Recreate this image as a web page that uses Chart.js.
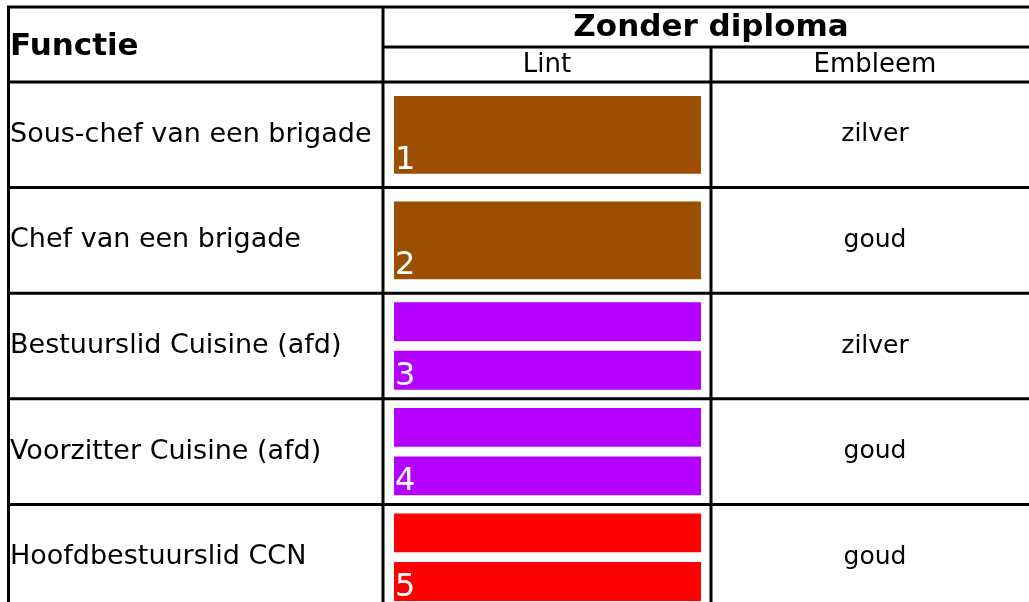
<!DOCTYPE html>
<html>
<head>
<meta charset="utf-8">
<script src="https://cdn.jsdelivr.net/npm/chart.js@4"></script>
<style>
  html, body { margin: 0; padding: 0; background: #fff; overflow: hidden; }
  #wrap { width: 1029px; height: 640px; }
</style>
</head>
<body>
<div id="wrap"><canvas id="myChart" width="1029" height="640"></canvas></div>
<script>
// Table data
const functies = ['Sous-chef van een brigade', 'Chef van een brigade', 'Bestuurslid Cuisine (afd)', 'Voorzitter Cuisine (afd)', 'Hoofdbestuurslid CCN'];
const lintKleur = ['#9C4F00', '#9C4F00', '#B400FF', '#B400FF', '#FF0000'];
const lintStrepen = [1, 1, 2, 2, 2];
const lintNummer = ['1', '2', '3', '4', '5'];
const embleem = ['zilver', 'goud', 'zilver', 'goud', 'goud'];

const titel = 'Zonder diploma';
const kolomFunctie = 'Functie';
const kolomLint = 'Lint';
const kolomEmbleem = 'Embleem';

const FONT = '"DejaVu Sans", Verdana, sans-serif';

// Each stripe of the ribbon is one bar, spanning the full lint column
const strook1 = functies.map(() => 1);
const strook2 = lintStrepen.map(n => (n > 1 ? 1 : null));

// Grid lines, headers, emblem column and ribbon numbers
const tablePlugin = {
  id: 'tablePlugin',
  afterDraw(chart) {
    const ctx = chart.ctx;
    const area = chart.chartArea;
    const yScale = chart.scales.y;
    const colLint = area.left - 11;
    const colEmbleem = area.right + 10;
    const colEnd = colEmbleem + (colEmbleem - colLint);
    const top = 7, midHead = 47, headBottom = area.top;
    const step = yScale.getPixelForValue(1) - yScale.getPixelForValue(0);

    ctx.save();
    ctx.strokeStyle = '#000';
    ctx.lineWidth = 3;
    const line = (x1, y1, x2, y2) => {
      ctx.beginPath();
      ctx.moveTo(x1, y1);
      ctx.lineTo(x2, y2);
      ctx.stroke();
    };
    // horizontal
    line(7, top, chart.width, top);
    line(colLint, midHead, chart.width, midHead);
    line(7, headBottom, chart.width, headBottom);
    functies.forEach((f, i) => {
      const yb = yScale.getPixelForValue(i) + step / 2;
      line(7, yb, chart.width, yb);
    });
    // vertical
    line(8.5, top, 8.5, chart.height);
    line(colLint, top, colLint, chart.height);
    line(colEmbleem, midHead, colEmbleem, chart.height);

    // headers
    ctx.fillStyle = '#000';
    ctx.textBaseline = 'middle';
    ctx.font = 'bold 31px ' + FONT;
    ctx.textAlign = 'left';
    ctx.fillText(kolomFunctie, 10, (top + headBottom) / 2 + 2);
    ctx.font = 'bold 31px ' + FONT;
    ctx.textAlign = 'center';
    ctx.fillText(titel, (colLint + colEnd) / 2, (top + midHead) / 2 + 1);
    ctx.font = '26px ' + FONT;
    ctx.fillText(kolomLint, (colLint + colEmbleem) / 2, (midHead + headBottom) / 2 + 1);
    ctx.fillText(kolomEmbleem, (colEmbleem + colEnd) / 2, (midHead + headBottom) / 2 + 1);

    // emblem column
    ctx.font = '25px ' + FONT;
    embleem.forEach((e, i) => {
      ctx.fillText(e, (colEmbleem + colEnd) / 2, yScale.getPixelForValue(i));
    });

    // ribbon number on the lowest stripe
    ctx.fillStyle = '#fff';
    ctx.textAlign = 'left';
    ctx.textBaseline = 'alphabetic';
    ctx.font = '32px ' + FONT;
    lintNummer.forEach((n, i) => {
      const ds = lintStrepen[i] > 1 ? 1 : 0;
      const bar = chart.getDatasetMeta(ds).data[i];
      const bottom = bar.y + bar.height / 2;
      ctx.fillText(n, bar.base + 1, bottom - 5);
    });
    ctx.restore();
  }
};

const ctx = document.getElementById('myChart').getContext('2d');
new Chart(ctx, {
  type: 'bar',
  data: {
    labels: functies,
    datasets: [
      { label: 'Strook 1', data: strook1, backgroundColor: lintKleur },
      { label: 'Strook 2', data: strook2, backgroundColor: lintKleur }
    ]
  },
  options: {
    indexAxis: 'y',
    responsive: false,
    animation: false,
    devicePixelRatio: 1,
    skipNull: true,
    categoryPercentage: 0.92,
    barPercentage: 0.8,
    layout: { padding: { left: 10, right: 328, top: 82, bottom: 30 } },
    scales: {
      x: { display: false, min: 0, max: 1 },
      y: {
        grid: { display: false },
        border: { display: false },
        afterFit(scale) { scale.width = 384; },
        ticks: {
          crossAlign: 'far',
          color: '#000',
          font: { family: FONT, size: 27 }
        }
      }
    },
    plugins: {
      legend: { display: false },
      tooltip: { enabled: false }
    }
  },
  plugins: [tablePlugin]
});
</script>
</body>
</html>
